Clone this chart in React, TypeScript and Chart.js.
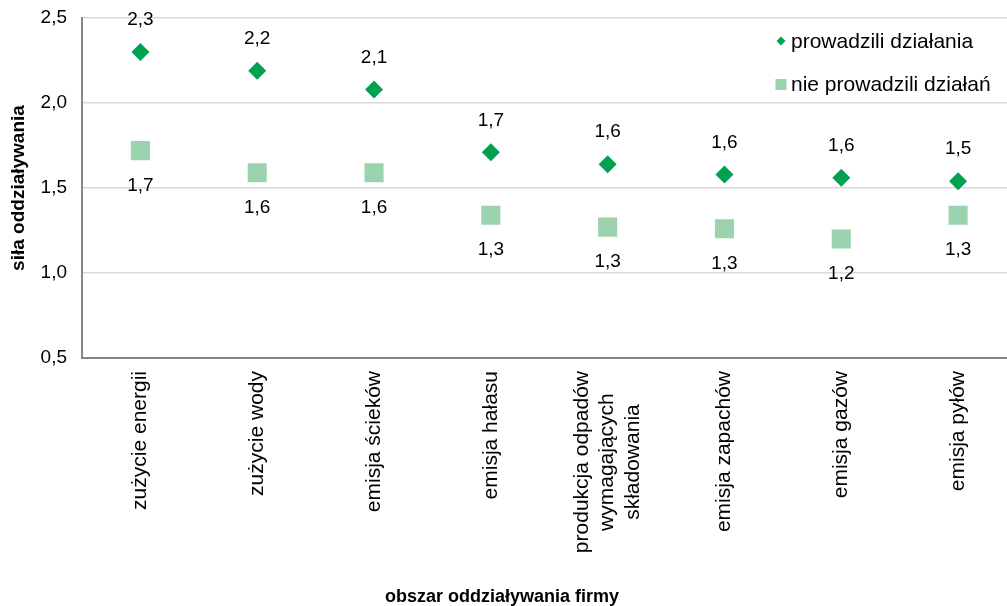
import React, { useEffect, useRef } from "react";
import { Chart, registerables } from "chart.js";

Chart.register(...registerables);

const categories: string[][] = [
  ["zużycie energii"],
  ["zużycie wody"],
  ["emisja ścieków"],
  ["emisja hałasu"],
  ["produkcja odpadów", "wymagających", "składowania"],
  ["emisja zapachów"],
  ["emisja gazów"],
  ["emisja pyłów"],
];
const seriesNames = ["prowadzili działania", "nie prowadzili działań"];
const prowadzili = [2.3, 2.19, 2.08, 1.71, 1.64, 1.58, 1.56, 1.54];
const nieProwadzili = [1.72, 1.59, 1.59, 1.34, 1.27, 1.26, 1.2, 1.34];
const yTicks = [0.5, 1.0, 1.5, 2.0, 2.5];
const yTitle = "siła oddziaływania";
const xTitle = "obszar oddziaływania firmy";

const DIAMOND = "#00A14F";
const SQUARE = "#9BD3AE";
const FONT = "'Liberation Sans', Arial, sans-serif";

const fmt = (v: number) => v.toFixed(1).replace(".", ",");

const customPlugin = {
  id: "custom",
  afterDraw(chart: any) {
    const ctx = chart.ctx;
    const xs = chart.scales.x;
    const area = chart.chartArea;
    ctx.save();
    // data labels
    ctx.fillStyle = "#000";
    ctx.font = `19px ${FONT}`;
    ctx.textAlign = "center";
    ctx.textBaseline = "middle";
    chart.data.datasets.forEach((ds: any, di: number) => {
      const meta = chart.getDatasetMeta(di);
      meta.data.forEach((pt: any, i: number) => {
        const off = di === 0 ? -32 : 35;
        ctx.fillText(fmt(ds.data[i]), pt.x, pt.y + off);
      });
    });
    // category labels
    ctx.font = `21px ${FONT}`;
    const lh = 25.5;
    categories.forEach((lines, i) => {
      const x = xs.getPixelForValue(i);
      const maxW = Math.max(...lines.map((l) => ctx.measureText(l).width));
      ctx.save();
      ctx.translate(x, area.bottom + 13);
      ctx.rotate(-Math.PI / 2);
      ctx.textAlign = "center";
      ctx.textBaseline = "middle";
      lines.forEach((l, j) => {
        ctx.fillText(l, -maxW / 2, (j - (lines.length - 1) / 2) * lh);
      });
      ctx.restore();
    });
    // x title
    ctx.font = `bold 18px ${FONT}`;
    ctx.textAlign = "center";
    ctx.textBaseline = "middle";
    ctx.fillText(xTitle, 502, 597);
    // legend
    ctx.font = `21px ${FONT}`;
    ctx.textAlign = "left";
    ctx.fillStyle = DIAMOND;
    ctx.beginPath();
    const dx = 781, dy = 41, r = 4.5;
    ctx.moveTo(dx, dy - r);
    ctx.lineTo(dx + r, dy);
    ctx.lineTo(dx, dy + r);
    ctx.lineTo(dx - r, dy);
    ctx.closePath();
    ctx.fill();
    ctx.fillStyle = SQUARE;
    ctx.fillRect(775.5, 79, 11, 11);
    ctx.fillStyle = "#000";
    ctx.fillText(seriesNames[0], 791, 42);
    ctx.fillText(seriesNames[1], 791, 85);
    ctx.restore();
  },
};

export default function App() {
  const ref = useRef<HTMLCanvasElement>(null);
  useEffect(() => {
    if (!ref.current) return;
    const chart = new Chart(ref.current, {
      type: "line",
      data: {
        labels: categories.map((c) => c.join(" ")),
        datasets: [
          {
            label: seriesNames[0],
            data: prowadzili,
            showLine: false,
            pointStyle: "rectRot",
            pointRadius: 9,
            pointBackgroundColor: DIAMOND,
            pointBorderWidth: 0,
            borderColor: DIAMOND,
          },
          {
            label: seriesNames[1],
            data: nieProwadzili,
            showLine: false,
            pointStyle: "rect",
            pointRadius: 13.5,
            pointBackgroundColor: SQUARE,
            pointBorderWidth: 0,
            borderColor: SQUARE,
          },
        ],
      },
      options: {
        responsive: false,
        animation: false,
        devicePixelRatio: 1,
        layout: { padding: { top: 18, right: 9, left: 0, bottom: 0 } },
        plugins: {
          legend: { display: false },
          tooltip: { enabled: false },
        },
        scales: {
          x: {
            offset: true,
            grid: { display: false },
            border: { display: true, color: "#868686", width: 2 },
            ticks: { display: false },
            afterFit: (s: any) => {
              s.height = 248;
              s.paddingLeft = 0;
              s.paddingRight = 0;
            },
          },
          y: {
            min: 0.5,
            max: 2.5,
            afterBuildTicks: (s: any) => {
              s.ticks = yTicks.map((v) => ({ value: v }));
            },
            grid: { color: "#d9d9d9", lineWidth: 1.5, drawTicks: false },
            border: { display: true, color: "#868686", width: 2 },
            ticks: {
              padding: 15,
              color: "#000",
              font: { family: FONT, size: 19 },
              callback: (v: any) => fmt(Number(v)),
            },
            title: {
              display: true,
              text: yTitle,
              color: "#000",
              font: { family: FONT, size: 19, weight: "bold" },
              padding: { top: 7, bottom: 0 },
            },
            afterFit: (s: any) => {
              s.width = 82;
              s.paddingTop = 0;
              s.paddingBottom = 0;
            },
          },
        },
      },
      plugins: [customPlugin],
    });
    return () => chart.destroy();
  }, []);
  return (
    <div
      style={{
        position: "fixed",
        left: 0,
        top: 0,
        width: 1007,
        height: 606,
        overflow: "hidden",
        background: "#fff",
      }}
    >
      <canvas ref={ref} width={1030} height={606} style={{ display: "block" }} />
    </div>
  );
}
